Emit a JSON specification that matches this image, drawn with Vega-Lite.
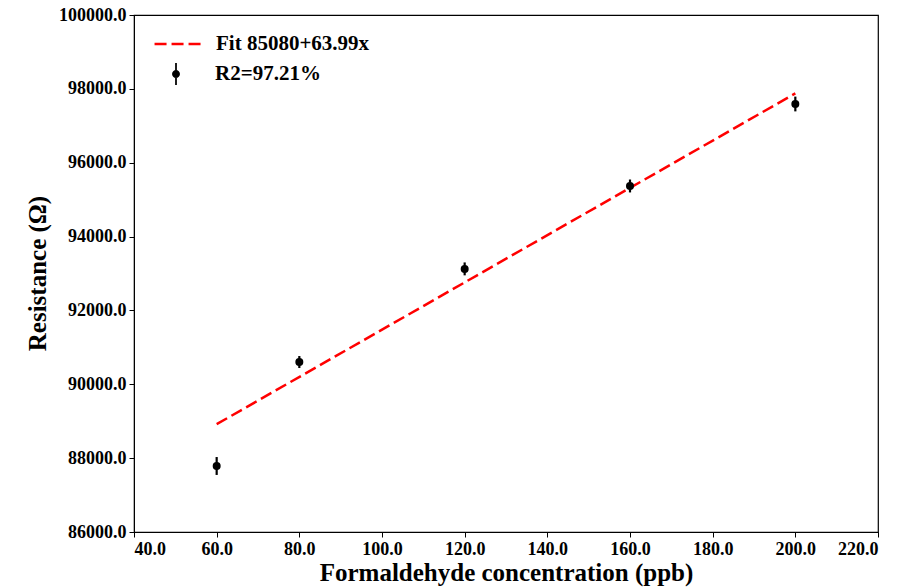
{
  "$schema": "https://vega.github.io/schema/vega-lite/v6.json",
  "width": 744,
  "height": 517,
  "autosize": {"type": "none"},
  "padding": {"left": 134, "top": 15, "right": 26, "bottom": 56},
  "background": "white",
  "config": {
    "font": "Liberation Serif",
    "view": {"stroke": "black", "strokeWidth": 1.2},
    "axis": {
      "grid": false,
      "domainColor": "black",
      "tickColor": "black",
      "labelColor": "black",
      "titleColor": "black",
      "labelFont": "Liberation Serif",
      "titleFont": "Liberation Serif",
      "labelFontWeight": "bold",
      "titleFontWeight": "bold",
      "labelFontSize": 18,
      "titleFontSize": 25,
      "tickSize": 5,
      "labelPadding": 3
    }
  },
  "datasets": {
    "pts": [
      {"conc": 60, "res": 87787, "lo": 87545, "hi": 88030},
      {"conc": 80, "res": 90603, "lo": 90440, "hi": 90765},
      {"conc": 120, "res": 93122, "lo": 92950, "hi": 93300},
      {"conc": 160, "res": 95369, "lo": 95195, "hi": 95545},
      {"conc": 200, "res": 97590, "lo": 97390, "hi": 97790}
    ],
    "fit": [
      {"conc": 60, "res": 88919},
      {"conc": 200, "res": 97878}
    ]
  },
  "layer": [
    {
      "data": {"name": "fit"},
      "mark": {"type": "line", "color": "#ff0000", "strokeWidth": 2.5, "strokeDash": [10, 4.5]},
      "encoding": {
        "x": {
          "field": "conc", "type": "quantitative",
          "scale": {"domain": [40, 220], "nice": false, "zero": false},
          "axis": {"values": [40, 60, 80, 100, 120, 140, 160, 180, 200, 220], "format": ".1f",
                   "title": "Formaldehyde concentration (ppb)", "titleX": 372, "titleY": 48, "titleBaseline": "alphabetic"}
        },
        "y": {
          "field": "res", "type": "quantitative",
          "scale": {"domain": [86000, 100000], "nice": false, "zero": false},
          "axis": {"values": [86000, 88000, 90000, 92000, 94000, 96000, 98000, 100000], "format": ".1f",
                   "title": "Resistance (Ω)", "titleX": -97, "titleY": 258, "titleAlign": "center", "titleBaseline": "middle", "titleAngle": -90}
        },
        "strokeDash": {
          "datum": "Fit 85080+63.99x",
          "type": "nominal",
          "scale": {"range": [[12, 5]]},
          "legend": {
            "title": null, "orient": "none", "legendX": 19, "legendY": 4,
            "padding": 0, "symbolType": "stroke", "symbolSize": 2200,
            "symbolStrokeColor": "#ff0000", "symbolStrokeWidth": 2.5,
            "labelFont": "Liberation Serif", "labelFontWeight": "bold", "labelFontSize": 21,
            "labelColor": "black", "labelOffset": 13, "labelLimit": 400
          }
        }
      }
    },
    {
      "data": {"name": "pts"},
      "mark": {"type": "rule", "color": "black", "strokeWidth": 2.2},
      "encoding": {
        "x": {"field": "conc", "type": "quantitative"},
        "y": {"field": "lo", "type": "quantitative"},
        "y2": {"field": "hi"}
      }
    },
    {
      "data": {"name": "pts"},
      "mark": {"type": "point", "filled": true, "color": "black", "opacity": 1, "size": 64},
      "encoding": {
        "x": {"field": "conc", "type": "quantitative"},
        "y": {"field": "res", "type": "quantitative"}
      }
    },
    {
      "data": {"name": "pts"},
      "mark": {"type": "point", "filled": true, "color": "black", "opacity": 1, "size": 0},
      "encoding": {
        "x": {"field": "conc", "type": "quantitative"},
        "y": {"field": "res", "type": "quantitative"},
        "shape": {
          "datum": "R2=97.21%",
          "type": "nominal",
          "scale": {"range": ["M-0.08,-1H0.08V1H-0.08Z M0.36,0A0.36,0.36,0,1,1,-0.36,0A0.36,0.36,0,1,1,0.36,0Z"]},
          "legend": {
            "title": null, "orient": "none", "legendX": 31, "legendY": 48,
            "padding": 0, "symbolSize": 484,
            "symbolFillColor": "black", "symbolStrokeWidth": 0, "symbolOpacity": 1,
            "labelFont": "Liberation Serif", "labelFontWeight": "bold", "labelFontSize": 21,
            "labelColor": "black", "labelOffset": 28, "labelLimit": 400
          }
        }
      }
    }
  ]
}
